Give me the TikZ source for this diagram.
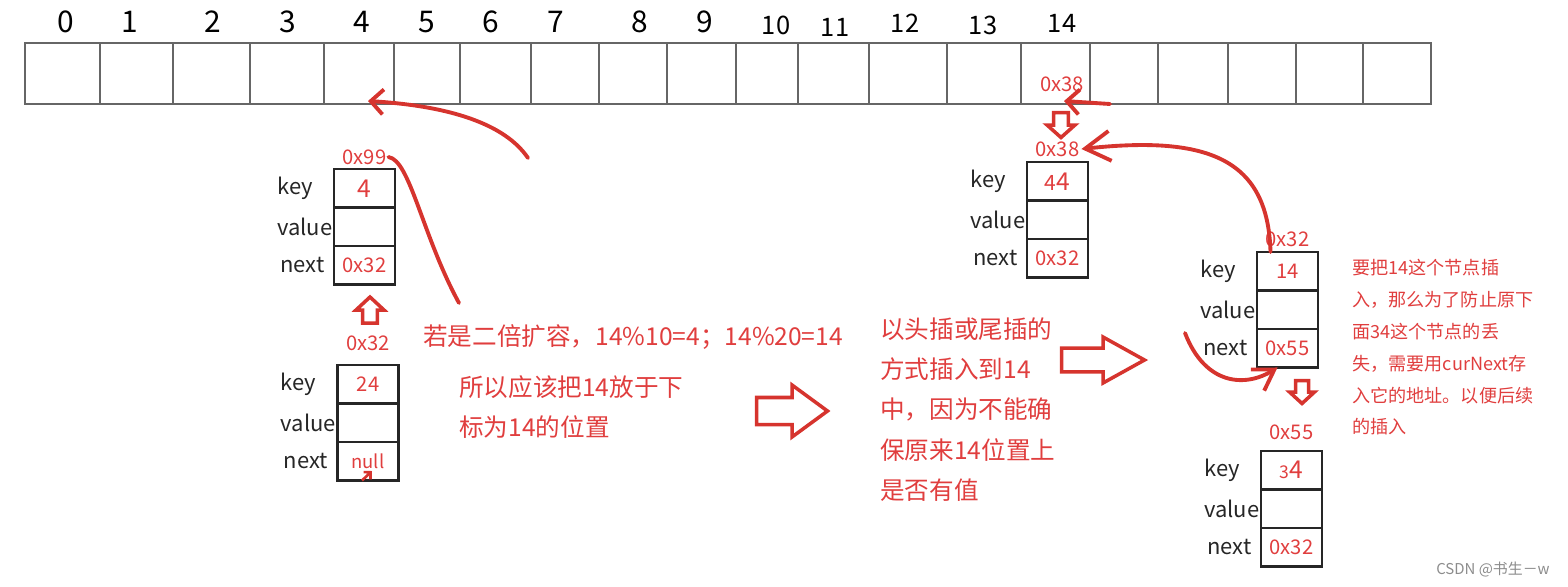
\documentclass[tikz,border=0pt]{standalone}
\usepackage{fontspec}
\setmainfont{Noto Sans CJK SC}
\usetikzlibrary{arrows.meta,positioning}
\definecolor{inkred}{RGB}{224,62,62}
\definecolor{penred}{RGB}{214,52,46}
\newcommand{\tikzentry}[6]{\node[cell, anchor=north] (#1k) at (#2) {#3}; \node[cell, below=0pt of #1k] (#1v) {}; \node[cell, below=0pt of #1v] (#1n) {#4};
  \node[field] (#1kl) at ([xshift=-1.14cm]#1k.west) {key}; \node[field] (#1vl) at ([xshift=-1.14cm]#1v.west) {value}; \node[field] (#1nl) at ([xshift=-1.08cm]#1n.west) {next};
  \node[addr] (#1a) at ([yshift=#6]#1k.north) {#5};}
\newcommand{\tikzblock}[4]{\draw[block, shift={(#1)}, rotate=#2, xscale=#3, yscale=#4] (-0.5,-0.26) -- (0,-0.26) -- (0,-0.5) -- (0.5,0) -- (0,0.5) -- (0,0.26) -- (-0.5,0.26) -- cycle;}
\tikzset{
  slot/.style={draw=black!60, line width=0.8pt, minimum height=1.22cm, inner sep=0pt, outer sep=0pt},
  index/.style={font=\fontsize{17}{19}\selectfont, inner sep=0pt},
  cell/.style={draw=black!85, line width=1.5pt, minimum width=1.22cm, minimum height=0.77cm, inner sep=0pt, outer sep=0pt, text=inkred, font=\fontsize{11.5}{13}\selectfont},
  field/.style={anchor=west, inner sep=0pt, text=black!85, font=\fontsize{12.5}{14}\selectfont},
  addr/.style={text=inkred, inner sep=1pt, font=\fontsize{11.5}{13}\selectfont},
  note/.style={text=inkred, align=left, inner sep=0pt, font=\fontsize{14}{23}\selectfont},
  smallnote/.style={text=inkred, align=left, inner sep=0pt, font=\fontsize{10.3}{18.1}\selectfont},
  block/.style={draw=penred, line width=2pt, fill=white, line join=miter},
  penline/.style={penred, line width=2.2pt, line cap=round},
  penarrow/.style={penline, -{Straight Barb[length=2.5mm,width=5mm]}},
  bigpenarrow/.style={penline, -{Straight Barb[length=5mm,width=6mm]}},
  sweeparrow/.style={penline, -{Straight Barb[length=4mm,width=5mm]}}
}
\begin{document}
\begin{tikzpicture}[x=0.02cm, y=-0.02cm]
  \useasboundingbox (0,0) rectangle (1568,586);
  % the table
  \foreach \xa/\xb [count=\i from 0] in {25/100, 100/173, 173/250, 250/324, 324/394, 394/460, 460/531, 531/599, 599/667, 667/736, 736/798, 798/869, 869/947, 947/1021, 1021/1090, 1090/1158, 1158/1228, 1228/1296, 1296/1363, 1363/1431}
  {
    \pgfmathsetmacro{\w}{(\xb-\xa)*0.02}
    \node[slot, minimum width=\w cm, anchor=north west] (c\i) at (\xa,43) {};
  }
  \foreach \i/\x in {0/66, 1/130, 2/213, 3/288, 4/362, 5/427, 6/491, 7/556, 8/640, 9/705}
    \node[index] (n\i) at (\x,22) {\i};
  \foreach \i/\x/\y in {10/776/25, 11/835/27, 12/905/23, 13/983/25, 14/1062/23}
    \node[index, font=\fontsize{14.5}{16}\selectfont] (n\i) at (\x,\y) {\i};
  \node[addr] (c14a) at (1062,84) {0x38};

  % entries
  \tikzentry{A}{364.5,169}{\fontsize{14}{16}\selectfont 4}{0x32}{0x99}{0.24cm}
  \tikzentry{B}{368,365}{24}{\fontsize{10.5}{12}\selectfont null}{0x32}{0.44cm}
  \tikzentry{C}{1057.5,162}{\fontsize{12}{14}\selectfont 4\fontsize{14}{16}\selectfont 4}{0x32}{0x38}{0.26cm}
  \tikzentry{D}{1287.5,252}{14}{0x55}{0x32}{0.26cm}
  \tikzentry{E}{1291.5,451}{\fontsize{10}{12}\selectfont 3\fontsize{14}{16}\selectfont 4}{0x32}{0x55}{0.38cm}

  % notes
  \node[note, anchor=west] (why) at (423,337) {若是二倍扩容，14\%10=4；14\%20=14};
  \node[note, anchor=west] (so) at (459,407) {所以应该把14放于下\\标为14的位置};
  \node[note, anchor=west] (how) at (880,409.5) {以头插或尾插的\\方式插入到14\\中，因为不能确\\保原来14位置上\\是否有值};
  \node[smallnote, anchor=west] (keep) at (1352,347.5) {要把14这个节点插\\入，那么为了防止原下\\面34这个节点的丢\\失，需要用curNext存\\入它的地址。以便后续\\的插入};
  \node[text=black!45, inner sep=0pt, font=\fontsize{8.5}{10}\selectfont] (csdn) at (1493,570) {CSDN @书生－w};

  % hollow arrows
  \tikzblock{792,411}{0}{71}{52}
  \tikzblock{1103,360}{0}{83}{46}
  \tikzblock{370,310}{90}{26}{28}
  \tikzblock{1061,125}{-90}{25}{28}
  \tikzblock{1302,392}{-90}{23}{25}

  % pen strokes
  \coordinate (hookA) at (528,158);
  \coordinate (tailA) at (459,303);
  \coordinate (hookC) at (1110,104);
  \coordinate (hookD) at (1185,333);
  \coordinate (nullmark) at (372,471);
  \draw[penarrow] (hookA) .. controls (505,124) and (450,106) .. ([xshift=0.18cm,yshift=0.06cm]c4.south);
  \draw[penline] (Aa.east) .. controls (410,160) and (422,235) .. (tailA);
  \draw[penarrow] (hookC) -- ([xshift=0.17cm,yshift=0.06cm]c14.south);
  \draw[bigpenarrow] ([xshift=-0.34cm]Dk.north) .. controls (1268,160) and (1210,135) .. (Ca.east);
  \draw[sweeparrow] (hookD) .. controls (1205,385) and (1245,388) .. ([xshift=-0.2cm]Dn.south);
  \draw[penred, line width=1.5pt, -{Straight Barb[length=1mm,width=2mm]}] ([xshift=-0.12cm]Bn.south) -- (nullmark);
\end{tikzpicture}
\end{document}
